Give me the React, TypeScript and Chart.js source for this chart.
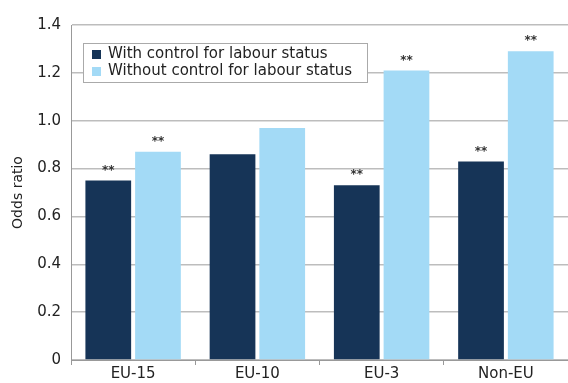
import React, { useEffect, useRef } from "react";
import { Chart, registerables } from "chart.js";

Chart.register(...registerables);

const categories = ["EU-15", "EU-10", "EU-3", "Non-EU"];
const withControl = [0.75, 0.86, 0.73, 0.83];
const withoutControl = [0.87, 0.97, 1.21, 1.29];
const sigWith = [true, false, true, true];
const sigWithout = [true, false, true, true];
const seriesLabels = ["With control for labour status", "Without control for labour status"];
const colors = ["#163457", "#a3daf6"];
const yTicks = [0, 0.2, 0.4, 0.6, 0.8, 1.0, 1.2, 1.4];

const FONT = "'DejaVu Sans', sans-serif";

const starsPlugin = {
  id: "stars",
  afterDatasetsDraw(chart: any) {
    const ctx = chart.ctx;
    const sigs = [sigWith, sigWithout];
    ctx.save();
    ctx.fillStyle = "#333";
    ctx.font = `bold 12px ${FONT}`;
    ctx.textAlign = "center";
    ctx.textBaseline = "bottom";
    chart.data.datasets.forEach((ds: any, di: number) => {
      const meta = chart.getDatasetMeta(di);
      meta.data.forEach((bar: any, i: number) => {
        if (sigs[di][i]) ctx.fillText("**", bar.x, bar.y - 4);
      });
    });
    ctx.restore();
  },
};

const legendPlugin = {
  id: "customLegend",
  afterDraw(chart: any) {
    const ctx = chart.ctx;
    const area = chart.chartArea;
    const x0 = area.left + 12;
    const y0 = area.top + 18;
    const w = 284;
    const h = 39;
    ctx.save();
    ctx.fillStyle = "#fff";
    ctx.fillRect(x0, y0, w, h);
    ctx.strokeStyle = "#aaa";
    ctx.lineWidth = 1;
    ctx.strokeRect(x0 + 0.5, y0 + 0.5, w, h);
    ctx.font = `15px ${FONT}`;
    ctx.textBaseline = "middle";
    ctx.textAlign = "left";
    seriesLabels.forEach((lab, i) => {
      const cy = y0 + 11 + i * 17;
      ctx.fillStyle = colors[i];
      ctx.fillRect(x0 + 9, cy - 4, 9, 9);
      ctx.fillStyle = "#222";
      ctx.fillText(lab, x0 + 25, cy);
    });
    ctx.restore();
  },
};

export default function App() {
  const ref = useRef<HTMLCanvasElement>(null);
  useEffect(() => {
    if (!ref.current) return;
    const chart = new Chart(ref.current, {
      type: "bar",
      data: {
        labels: categories,
        datasets: [
          { label: seriesLabels[0], data: withControl, backgroundColor: colors[0], categoryPercentage: 0.8, barPercentage: 0.92 },
          { label: seriesLabels[1], data: withoutControl, backgroundColor: colors[1], categoryPercentage: 0.8, barPercentage: 0.92 },
        ],
      },
      options: {
        animation: false,
        responsive: false,
        maintainAspectRatio: false,
        layout: { padding: { top: 25, right: 0, left: 0, bottom: 0 } },
        plugins: { legend: { display: false }, tooltip: { enabled: false } },
        scales: {
          x: {
            offset: true,
            grid: { display: true, drawOnChartArea: false, offset: true, tickLength: 5, color: "#999" },
            border: { color: "#999" },
            ticks: { color: "#222", font: { family: FONT, size: 15 }, padding: 0 },
            afterFit: (s: any) => { s.height = 23; },
          },
          y: {
            min: 0,
            max: 1.4,
            afterBuildTicks: (s: any) => { s.ticks = yTicks.map((v) => ({ value: v })); },
            grid: { color: "#bdbdbd", drawTicks: false, lineWidth: 1.5 },
            border: { color: "#999", display: true },
            ticks: {
              color: "#222",
              font: { family: FONT, size: 15 },
              padding: 10,
              callback: (v: any) => (Number(v) === 0 ? "0" : Number(v).toFixed(1)),
            },
            title: { display: true, text: "Odds ratio", color: "#222", font: { family: FONT, size: 14 }, padding: { top: 10, bottom: 0 } },
            afterFit: (s: any) => { s.width = 71; },
          },
        },
      },
      plugins: [starsPlugin, legendPlugin],
    });
    return () => chart.destroy();
  }, []);
  return (
    <div style={{ position: "fixed", left: 0, top: 0, width: 568, height: 383, background: "#fff" }}>
      <canvas ref={ref} width={568} height={383} />
    </div>
  );
}
